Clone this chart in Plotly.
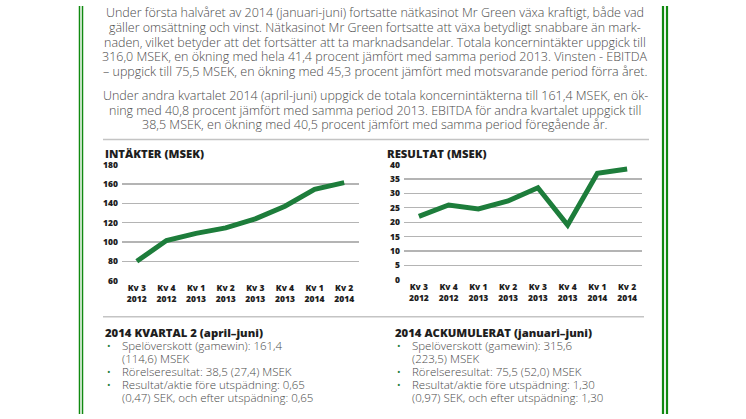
import plotly.graph_objects as go

W, H = 746, 419

quarters = ["Kv 3<br>2012", "Kv 4<br>2012", "Kv 1<br>2013", "Kv 2<br>2013",
            "Kv 3<br>2013", "Kv 4<br>2013", "Kv 1<br>2014", "Kv 2<br>2014"]
intakter = [80, 101.5, 108.9, 114.6, 124, 137, 154.6, 161.4]
resultat = [22, 26, 24.6, 27.4, 32, 19, 37.0, 38.5]

intakter_ticks = [60, 80, 100, 120, 140, 160, 180]
resultat_ticks = [0, 5, 10, 15, 20, 25, 30, 35, 40]

para1 = [
    "Under första halvåret av 2014 (januari-juni) fortsatte nätkasinot Mr Green växa kraftigt, både vad",
    "gäller omsättning och vinst. Nätkasinot Mr Green fortsatte att växa betydligt snabbare än mark-",
    "naden, vilket betyder att det fortsätter att ta marknadsandelar. Totala koncernintäkter uppgick till",
    "316,0 MSEK, en ökning med hela 41,4 procent jämfört med samma period 2013. Vinsten - EBITDA",
    "– uppgick till 75,5 MSEK, en ökning med 45,3 procent jämfört med motsvarande period förra året.",
]
para2 = [
    "Under andra kvartalet 2014 (april-juni) uppgick de totala koncernintäkterna till 161,4 MSEK, en ök-",
    "ning med 40,8 procent jämfört med samma period 2013. EBITDA för andra kvartalet uppgick till",
    "38,5 MSEK, en ökning med 40,5 procent jämfört med samma period föregående år.",
]

left_heading = "2014 KVARTAL 2 (april–juni)"
left_bullets = [
    ["Spelöverskott (gamewin): 161,4", "(114,6) MSEK"],
    ["Rörelseresultat: 38,5 (27,4) MSEK"],
    ["Resultat/aktie före utspädning: 0,65", "(0,47) SEK, och efter utspädning: 0,65"],
]
right_heading = "2014 ACKUMULERAT (januari–juni)"
right_bullets = [
    ["Spelöverskott (gamewin): 315,6", "(223,5) MSEK"],
    ["Rörelseresultat: 75,5 (52,0) MSEK"],
    ["Resultat/aktie före utspädning: 1,30", "(0,97) SEK, och efter utspädning: 1,30"],
]

GREEN_LINE = "#1d7d3b"
BORDER = "#118a11"
TEXT = "#4a4a4a"
DARK = "#1e1e1e"
FONT = "Open Sans"


def px(x):
    return x / W


def py(y):
    return 1 - y / H


fig = go.Figure()
fig.add_trace(go.Scatter(x=quarters, y=intakter, mode="lines",
                         line=dict(color=GREEN_LINE, width=5), xaxis="x", yaxis="y",
                         cliponaxis=False, hoverinfo="skip"))
fig.add_trace(go.Scatter(x=quarters, y=resultat, mode="lines",
                         line=dict(color=GREEN_LINE, width=5), xaxis="x2", yaxis="y2",
                         cliponaxis=False, hoverinfo="skip"))

tickfont = dict(family=FONT, size=8.5, color=DARK, weight=800)
xcommon = dict(type="category", range=[-0.5, 7.5], showgrid=False, zeroline=False,
               showline=False, ticks="", tickfont=dict(family=FONT, size=8.5, color=DARK, weight=800),
               ticklabelstandoff=1, fixedrange=True)
ycommon = dict(showgrid=True, gridcolor="#b4b4b4", gridwidth=1.3, zeroline=False,
               showline=False, ticks="", tickfont=tickfont, ticklabelstandoff=3,
               fixedrange=True)

fig.update_layout(
    width=W, height=H, margin=dict(l=0, r=0, t=0, b=0),
    paper_bgcolor="white", plot_bgcolor="white", showlegend=False,
    xaxis=dict(domain=[px(122), px(359)], anchor="y", **xcommon),
    yaxis=dict(domain=[py(282), py(163)], anchor="x", range=[60, 180],
               tickvals=intakter_ticks, **ycommon),
    xaxis2=dict(domain=[px(404), px(642)], anchor="y2", **xcommon),
    yaxis2=dict(domain=[py(281), py(163)], anchor="x2", range=[0, 40],
                tickvals=resultat_ticks, **ycommon),
)

shapes = []
for x, w in [(79.5, 1.5), (82.5, 1.5), (663, 2.2), (667, 2.2)]:
    shapes.append(dict(type="line", xref="paper", yref="paper", x0=px(x), x1=px(x),
                       y0=0, y1=1, line=dict(color=BORDER, width=w)))
shapes.append(dict(type="line", xref="paper", yref="paper", x0=px(103), x1=px(649),
                   y0=py(137), y1=py(137), line=dict(color="#c4c4c4", width=1.5)))
shapes.append(dict(type="line", xref="paper", yref="paper", x0=px(103), x1=px(644),
                   y0=py(319), y1=py(319), line=dict(color="#c4c4c4", width=1.5)))
fig.update_layout(shapes=shapes)

ann = []
for i, t in enumerate(para1):
    ann.append(dict(text=t, x=px(375), y=py(7 + i * 15), xanchor="center", yanchor="middle"))
for i, t in enumerate(para2):
    ann.append(dict(text=t, x=px(375), y=py(92 + i * 15), xanchor="center", yanchor="middle"))
for a in ann:
    a.update(xref="paper", yref="paper", showarrow=False,
             font=dict(family=FONT, size=12.5, color=TEXT, weight=300))

titles = [("INTÄKTER (MSEK)", 103), ("RESULTAT (MSEK)", 385)]
for t, x in titles:
    ann.append(dict(text=t, x=px(x), y=py(151.5), xref="paper", yref="paper", showarrow=False,
                    xanchor="left", yanchor="middle",
                    font=dict(family=FONT, size=11.3, color=DARK, weight=800)))

for heading, bullets, x0 in [(left_heading, left_bullets, 103), (right_heading, right_bullets, 393)]:
    ann.append(dict(text=heading, x=px(x0), y=py(335), xref="paper", yref="paper",
                    showarrow=False, xanchor="left", yanchor="middle",
                    font=dict(family=FONT, size=11.3, color=DARK, weight=800)))
    row = 0
    for b in bullets:
        ann.append(dict(text="•", x=px(x0 + 6), y=py(348.5 + row * 13.4), xref="paper",
                        yref="paper", showarrow=False, xanchor="center", yanchor="middle",
                        font=dict(family=FONT, size=9.5, color=GREEN_LINE)))
        for line in b:
            ann.append(dict(text=line, x=px(x0 + 17), y=py(348.5 + row * 13.4), xref="paper",
                            yref="paper", showarrow=False, xanchor="left", yanchor="middle",
                            font=dict(family=FONT, size=11.5, color=TEXT, weight=300)))
            row += 1

fig.update_layout(annotations=ann)
fig.write_html("out.html", config={"displayModeBar": False, "staticPlot": True},
               post_script="document.body.style.margin='0px';document.body.style.overflow='hidden';")
